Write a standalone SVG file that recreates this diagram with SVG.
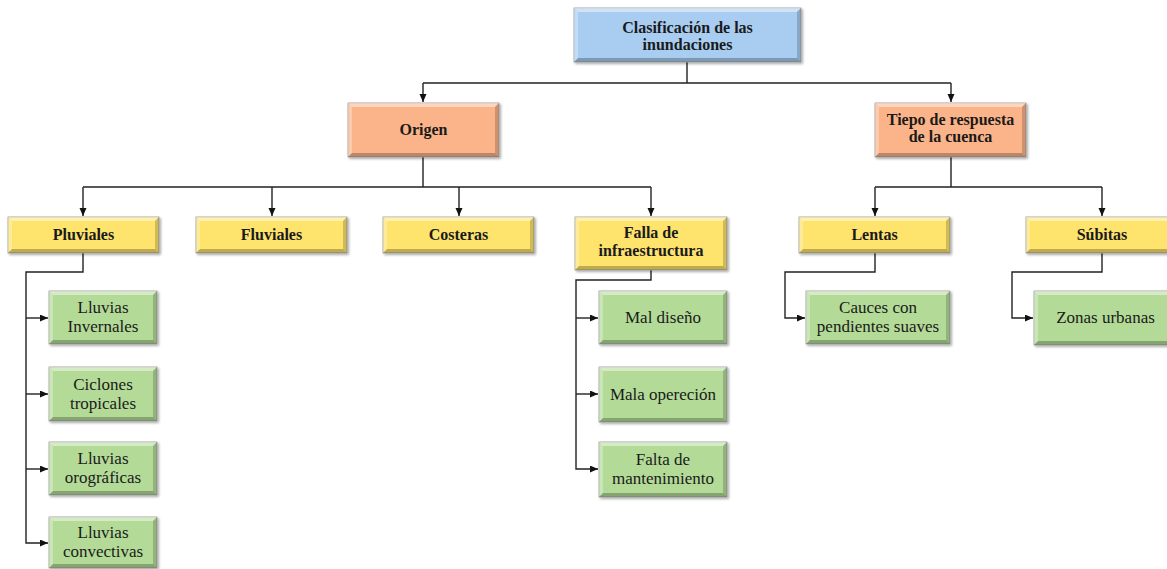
<svg xmlns="http://www.w3.org/2000/svg" width="1167" height="569" viewBox="0 0 1167 569">
<style>
.b{stroke:#9a9a9a;stroke-width:0.8}
.blue{fill:#a8cdf1}.orange{fill:#fbb489}.yellow{fill:#fee36d}.green{fill:#b3db97}
.hl{fill:#fff;opacity:0.45}.hl2{fill:#fff;opacity:0.3}.sh{fill:#000;opacity:0.25}.sh2{fill:#000;opacity:0.18}
.tb{font-family:"Liberation Serif",serif;font-weight:bold;font-size:16px;fill:#1a1a1a;text-anchor:middle}
.tr{font-family:"Liberation Serif",serif;font-size:17px;fill:#1a1a1a;text-anchor:middle}
.c{fill:none;stroke:#222;stroke-width:1.4}
</style>
<defs>
<filter id="ds" x="-10%" y="-10%" width="130%" height="140%"><feDropShadow dx="1.5" dy="1.5" stdDeviation="1" flood-color="#000" flood-opacity="0.35"/></filter>
<marker id="ar" markerUnits="userSpaceOnUse" markerWidth="9" markerHeight="8" refX="8" refY="3.5" orient="auto"><path d="M0,0L8,3.5L0,7z" fill="#111"/></marker>
</defs>
<rect width="1167" height="569" fill="#fff"/>
<g id="connectors">
<path class="c" d="M687,62V83M423,83H951"/>
<path class="c" d="M423,83V102" marker-end="url(#ar)"/>
<path class="c" d="M951,83V102" marker-end="url(#ar)"/>
<path class="c" d="M423,157V187M83,187H651"/>
<path class="c" d="M83,187V216" marker-end="url(#ar)"/>
<path class="c" d="M272,187V216" marker-end="url(#ar)"/>
<path class="c" d="M459,187V216" marker-end="url(#ar)"/>
<path class="c" d="M651,187V216" marker-end="url(#ar)"/>
<path class="c" d="M951,157V187M875,187H1102"/>
<path class="c" d="M875,187V216" marker-end="url(#ar)"/>
<path class="c" d="M1102,187V216" marker-end="url(#ar)"/>
<path class="c" d="M83,253V272H26V543H48" marker-end="url(#ar)"/>
<path class="c" d="M26,318H48" marker-end="url(#ar)"/>
<path class="c" d="M26,394H48" marker-end="url(#ar)"/>
<path class="c" d="M26,469H48" marker-end="url(#ar)"/>
<path class="c" d="M651,270V280H576V469H598" marker-end="url(#ar)"/>
<path class="c" d="M576,318H598" marker-end="url(#ar)"/>
<path class="c" d="M576,394H598" marker-end="url(#ar)"/>
<path class="c" d="M875,253V272H785V318H805" marker-end="url(#ar)"/>
<path class="c" d="M1102,253V272H1012V318H1033" marker-end="url(#ar)"/>
</g>
<g id="n-clasificacion" filter="url(#ds)">
<rect class="b blue" x="574" y="8" width="227" height="54"/>
<path class="hl" d="M574,8h227l-4,4H578z"/><path class="hl2" d="M574,8l4,4V58l-4,4z"/><path class="sh" d="M574,62l4,-4H797l4,4z"/><path class="sh2" d="M801,8v54l-4,-4V12z"/>
</g>
<text class="tb" x="687.5" y="33" font-size="15.5">Clasificación de las</text>
<text class="tb" x="687.5" y="50" font-size="15.5">inundaciones</text>
<g id="n-origen" filter="url(#ds)">
<rect class="b orange" x="348" y="103" width="151" height="54"/>
<path class="hl" d="M348,103h151l-4,4H352z"/><path class="hl2" d="M348,103l4,4V153l-4,4z"/><path class="sh" d="M348,157l4,-4H495l4,4z"/><path class="sh2" d="M499,103v54l-4,-4V107z"/>
</g>
<text class="tb" x="423.5" y="135">Origen</text>
<g id="n-tiepo" filter="url(#ds)">
<rect class="b orange" x="875" y="103" width="151" height="54"/>
<path class="hl" d="M875,103h151l-4,4H879z"/><path class="hl2" d="M875,103l4,4V153l-4,4z"/><path class="sh" d="M875,157l4,-4H1022l4,4z"/><path class="sh2" d="M1026,103v54l-4,-4V107z"/>
</g>
<text class="tb" x="950.5" y="125">Tiepo de respuesta</text>
<text class="tb" x="950.5" y="142">de la cuenca</text>
<g id="n-pluviales" filter="url(#ds)">
<rect class="b yellow" x="8" y="217" width="151" height="36"/>
<path class="hl" d="M8,217h151l-4,4H12z"/><path class="hl2" d="M8,217l4,4V249l-4,4z"/><path class="sh" d="M8,253l4,-4H155l4,4z"/><path class="sh2" d="M159,217v36l-4,-4V221z"/>
</g>
<text class="tb" x="83.5" y="240">Pluviales</text>
<g id="n-fluviales" filter="url(#ds)">
<rect class="b yellow" x="196" y="217" width="151" height="36"/>
<path class="hl" d="M196,217h151l-4,4H200z"/><path class="hl2" d="M196,217l4,4V249l-4,4z"/><path class="sh" d="M196,253l4,-4H343l4,4z"/><path class="sh2" d="M347,217v36l-4,-4V221z"/>
</g>
<text class="tb" x="271.5" y="240">Fluviales</text>
<g id="n-costeras" filter="url(#ds)">
<rect class="b yellow" x="383" y="217" width="151" height="36"/>
<path class="hl" d="M383,217h151l-4,4H387z"/><path class="hl2" d="M383,217l4,4V249l-4,4z"/><path class="sh" d="M383,253l4,-4H530l4,4z"/><path class="sh2" d="M534,217v36l-4,-4V221z"/>
</g>
<text class="tb" x="458.5" y="240">Costeras</text>
<g id="n-falla" filter="url(#ds)">
<rect class="b yellow" x="575" y="217" width="152" height="53"/>
<path class="hl" d="M575,217h152l-4,4H579z"/><path class="hl2" d="M575,217l4,4V266l-4,4z"/><path class="sh" d="M575,270l4,-4H723l4,4z"/><path class="sh2" d="M727,217v53l-4,-4V221z"/>
</g>
<text class="tb" x="651" y="238">Falla de</text>
<text class="tb" x="651" y="256">infraestructura</text>
<g id="n-lentas" filter="url(#ds)">
<rect class="b yellow" x="799" y="217" width="151" height="36"/>
<path class="hl" d="M799,217h151l-4,4H803z"/><path class="hl2" d="M799,217l4,4V249l-4,4z"/><path class="sh" d="M799,253l4,-4H946l4,4z"/><path class="sh2" d="M950,217v36l-4,-4V221z"/>
</g>
<text class="tb" x="874.5" y="240">Lentas</text>
<g id="n-subitas" filter="url(#ds)">
<rect class="b yellow" x="1026" y="217" width="152" height="36"/>
<path class="hl" d="M1026,217h152l-4,4H1030z"/><path class="hl2" d="M1026,217l4,4V249l-4,4z"/><path class="sh" d="M1026,253l4,-4H1174l4,4z"/>
</g>
<text class="tb" x="1102" y="240">Súbitas</text>
<g id="n-lluvias-invernales" filter="url(#ds)">
<rect class="b green" x="49" y="291" width="108" height="53"/>
<path class="hl" d="M49,291h108l-4,4H53z"/><path class="hl2" d="M49,291l4,4V340l-4,4z"/><path class="sh" d="M49,344l4,-4H153l4,4z"/><path class="sh2" d="M157,291v53l-4,-4V295z"/>
</g>
<text class="tr" x="103" y="313">Lluvias</text>
<text class="tr" x="103" y="332">Invernales</text>
<g id="n-ciclones" filter="url(#ds)">
<rect class="b green" x="49" y="367" width="108" height="54"/>
<path class="hl" d="M49,367h108l-4,4H53z"/><path class="hl2" d="M49,367l4,4V417l-4,4z"/><path class="sh" d="M49,421l4,-4H153l4,4z"/><path class="sh2" d="M157,367v54l-4,-4V371z"/>
</g>
<text class="tr" x="103" y="389.5">Ciclones</text>
<text class="tr" x="103" y="408.5">tropicales</text>
<g id="n-orograficas" filter="url(#ds)">
<rect class="b green" x="49" y="442" width="108" height="53"/>
<path class="hl" d="M49,442h108l-4,4H53z"/><path class="hl2" d="M49,442l4,4V491l-4,4z"/><path class="sh" d="M49,495l4,-4H153l4,4z"/><path class="sh2" d="M157,442v53l-4,-4V446z"/>
</g>
<text class="tr" x="103" y="464">Lluvias</text>
<text class="tr" x="103" y="483">orográficas</text>
<g id="n-convectivas" filter="url(#ds)">
<rect class="b green" x="49" y="517" width="108" height="51"/>
<path class="hl" d="M49,517h108l-4,4H53z"/><path class="hl2" d="M49,517l4,4V564l-4,4z"/><path class="sh" d="M49,568l4,-4H153l4,4z"/><path class="sh2" d="M157,517v51l-4,-4V521z"/>
</g>
<text class="tr" x="103" y="538">Lluvias</text>
<text class="tr" x="103" y="557">convectivas</text>
<g id="n-mal-diseno" filter="url(#ds)">
<rect class="b green" x="599" y="291" width="128" height="53"/>
<path class="hl" d="M599,291h128l-4,4H603z"/><path class="hl2" d="M599,291l4,4V340l-4,4z"/><path class="sh" d="M599,344l4,-4H723l4,4z"/><path class="sh2" d="M727,291v53l-4,-4V295z"/>
</g>
<text class="tr" x="663" y="323">Mal diseño</text>
<g id="n-mala-operecion" filter="url(#ds)">
<rect class="b green" x="599" y="367" width="128" height="55"/>
<path class="hl" d="M599,367h128l-4,4H603z"/><path class="hl2" d="M599,367l4,4V418l-4,4z"/><path class="sh" d="M599,422l4,-4H723l4,4z"/><path class="sh2" d="M727,367v55l-4,-4V371z"/>
</g>
<text class="tr" x="663" y="400">Mala opereción</text>
<g id="n-falta-mantenimiento" filter="url(#ds)">
<rect class="b green" x="599" y="442" width="128" height="55"/>
<path class="hl" d="M599,442h128l-4,4H603z"/><path class="hl2" d="M599,442l4,4V493l-4,4z"/><path class="sh" d="M599,497l4,-4H723l4,4z"/><path class="sh2" d="M727,442v55l-4,-4V446z"/>
</g>
<text class="tr" x="663" y="465">Falta de</text>
<text class="tr" x="663" y="484">mantenimiento</text>
<g id="n-cauces" filter="url(#ds)">
<rect class="b green" x="806" y="291" width="144" height="53"/>
<path class="hl" d="M806,291h144l-4,4H810z"/><path class="hl2" d="M806,291l4,4V340l-4,4z"/><path class="sh" d="M806,344l4,-4H946l4,4z"/><path class="sh2" d="M950,291v53l-4,-4V295z"/>
</g>
<text class="tr" x="878" y="313">Cauces con</text>
<text class="tr" x="878" y="332">pendientes suaves</text>
<g id="n-zonas-urbanas" filter="url(#ds)">
<rect class="b green" x="1034" y="291" width="145" height="54"/>
<path class="hl" d="M1034,291h145l-4,4H1038z"/><path class="hl2" d="M1034,291l4,4V341l-4,4z"/><path class="sh" d="M1034,345l4,-4H1175l4,4z"/>
</g>
<text class="tr" x="1105.5" y="323">Zonas urbanas</text>
</svg>
